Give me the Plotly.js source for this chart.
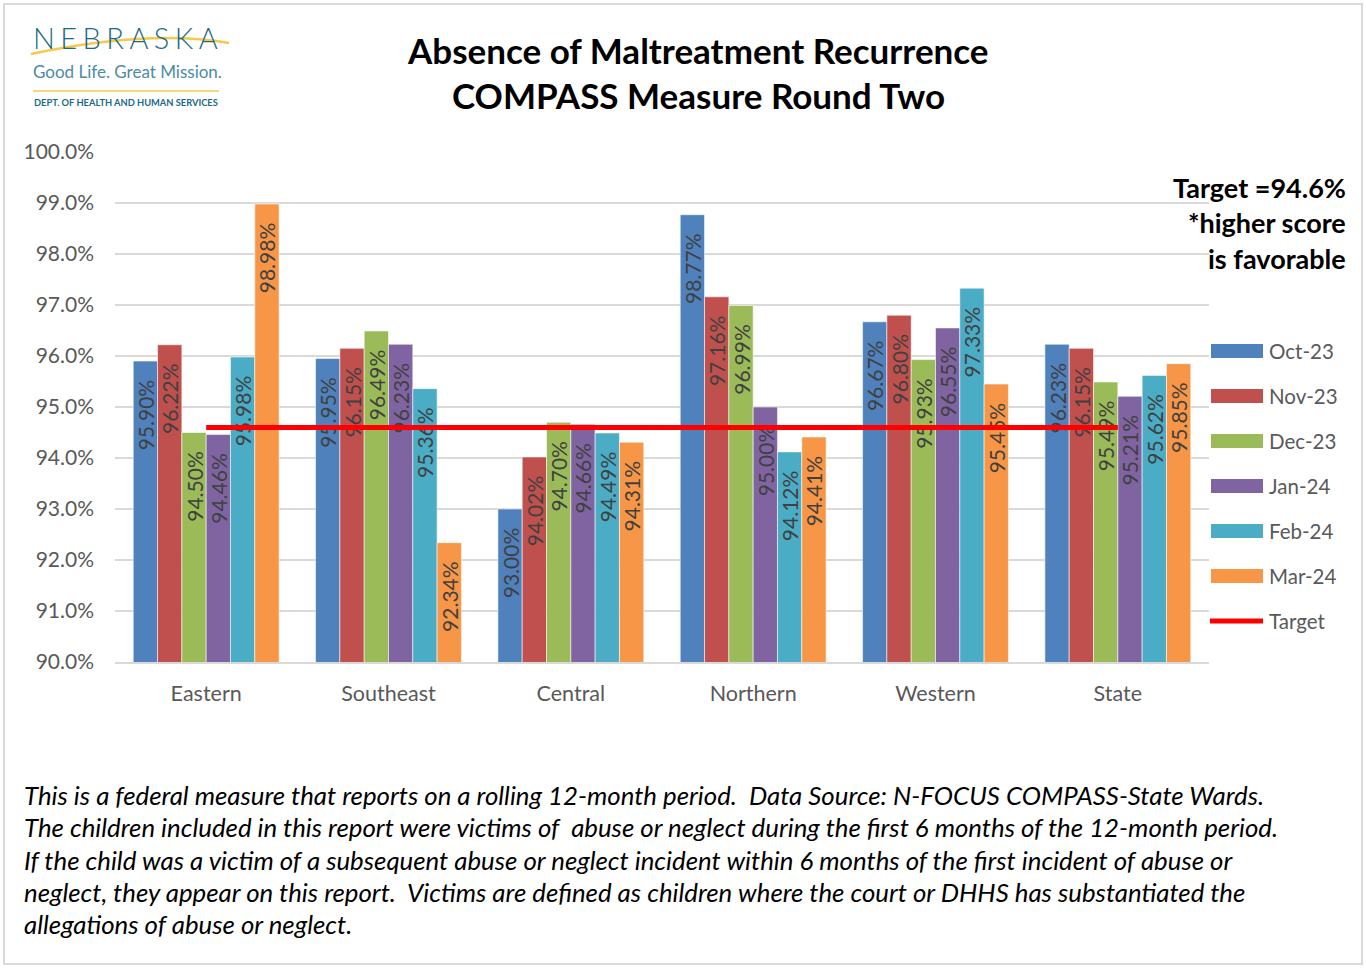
<!DOCTYPE html>
<html><head><meta charset="utf-8">
<script src="https://cdn.plot.ly/plotly-3.0.1.min.js"></script>
<style>
html,body{margin:0;padding:0;background:#fff;}
#frame{position:absolute;left:3px;top:3px;width:1360px;height:962px;border:2px solid #d9d9d9;box-sizing:border-box;pointer-events:none;z-index:5;}
#chart{position:absolute;left:0;top:0;width:1366px;height:969px;}
</style></head>
<body>
<div id="chart"></div><div id="frame"></div>
<script>
// ---- data ----
const categories = ["Eastern", "Southeast", "Central", "Northern", "Western", "State"];
const seriesNames = ["Oct-23", "Nov-23", "Dec-23", "Jan-24", "Feb-24", "Mar-24"];
const oct23 = [95.90, 95.95, 93.00, 98.77, 96.67, 96.23];
const nov23 = [96.22, 96.15, 94.02, 97.16, 96.80, 96.15];
const dec23 = [94.50, 96.49, 94.70, 96.99, 95.93, 95.49];
const jan24 = [94.46, 96.23, 94.66, 95.00, 96.55, 95.21];
const feb24 = [95.98, 95.36, 94.49, 94.12, 97.33, 95.62];
const mar24 = [98.98, 92.34, 94.31, 94.41, 95.45, 95.85];
const targetValue = 94.6;
const targetName = "Target";
const yTickVals = [90, 91, 92, 93, 94, 95, 96, 97, 98, 99, 100];
const seriesValues = [oct23, nov23, dec23, jan24, feb24, mar24];
const colors = ["#4f81bd", "#c0504d", "#9bbb59", "#8064a2", "#4bacc6", "#f79646"];
const titleLines = ["Absence of Maltreatment Recurrence", "COMPASS Measure Round Two"];
const noteLines = ["Target =94.6%", "*higher score", "is favorable"];
const footLines = [
  "This is a federal measure that reports on a rolling 12-month period.&nbsp; Data Source: N-FOCUS COMPASS-State Wards.",
  "The children included in this report were victims of&nbsp; abuse or neglect during the first 6 months of the 12-month period.",
  "If the child was a victim of a subsequent abuse or neglect incident within 6 months of the first incident of abuse or",
  "neglect, they appear on this report.&nbsp; Victims are defined as children where the court or DHHS has substantiated the",
  "allegations of abuse or neglect."
];

// ---- geometry helpers (pixel -> paper) ----
const L = 115, R = 1209, T = 152, B = 662;
const W = R - L, H = B - T;
const px = p => (p - L) / W;
const py = p => (B - p) / H;
const FONT = "Lato, 'Open Sans', sans-serif";

const traces = seriesValues.map((vals, i) => ({
  type: "bar",
  name: seriesNames[i],
  x: categories,
  y: vals,
  marker: {color: colors[i], line: {color: "rgba(255,255,255,0.55)", width: 1}},
  texttemplate: "%{y:.2f}%\u2002\u2009\u2009",
  textposition: "inside",
  insidetextanchor: "end",
  textangle: -90,
  constraintext: "none",
  insidetextfont: {family: FONT, size: 21, color: "#404040"},
  showlegend: false,
  hoverinfo: "x+y+name"
}));

traces.push({
  type: "scatter",
  mode: "lines",
  name: targetName,
  x: categories,
  y: categories.map(() => targetValue),
  line: {color: "#ff0000", width: 5},
  showlegend: false
});

const annotations = [];
const shapes = [];

// title
titleLines.forEach((t, i) => annotations.push({
  xref: "paper", yref: "paper", x: px(698), y: py(50 + i * 45),
  xanchor: "center", yanchor: "middle", showarrow: false,
  text: "<b>" + t + "</b>", font: {family: FONT, size: 35, color: "#000"}
}));
// target note
noteLines.forEach((t, i) => annotations.push({
  xref: "paper", yref: "paper", x: px(1348), y: py(187 + i * 35.5),
  xanchor: "right", yanchor: "middle", showarrow: false,
  text: "<b>" + t + "</b>", font: {family: FONT, size: 27, color: "#000"}
}));
// footnote
footLines.forEach((t, i) => annotations.push({
  xref: "paper", yref: "paper", x: px(22), y: py(795 + i * 32.3),
  xanchor: "left", yanchor: "middle", showarrow: false, align: "left",
  text: "<i>" + t + "</i>", font: {family: FONT, size: 25.8, color: "#000"}
}));

// custom legend
seriesNames.forEach((n, i) => {
  const cy = 351 + i * 45;
  shapes.push({type: "rect", xref: "paper", yref: "paper",
    x0: px(1211), x1: px(1263), y0: py(cy - 7), y1: py(cy + 7),
    fillcolor: colors[i], line: {width: 0}});
  annotations.push({xref: "paper", yref: "paper", x: px(1267), y: py(cy),
    xanchor: "left", yanchor: "middle", showarrow: false, text: n,
    font: {family: FONT, size: 20.5, color: "#595959"}});
});
{
  const cy = 351 + 6 * 45;
  shapes.push({type: "line", xref: "paper", yref: "paper",
    x0: px(1210), x1: px(1263), y0: py(cy), y1: py(cy),
    line: {color: "#ff0000", width: 5}});
  annotations.push({xref: "paper", yref: "paper", x: px(1267), y: py(cy),
    xanchor: "left", yanchor: "middle", showarrow: false, text: targetName,
    font: {family: FONT, size: 20.5, color: "#595959"}});
}

// logo
shapes.push({type: "path", xref: "paper", yref: "paper", layer: "below",
  path: `M${px(31)},${py(54)} Q${px(150)},${py(29)} ${px(229)},${py(43)}`,
  line: {color: "#f7c94a", width: 2.5}});
shapes.push({type: "line", xref: "paper", yref: "paper",
  x0: px(33), x1: px(219), y0: py(91), y1: py(91),
  line: {color: "#f5c84c", width: 1.5}});
annotations.push({xref: "paper", yref: "paper", x: px(31), y: py(38),
  xanchor: "left", yanchor: "middle", showarrow: false,
  text: "N\u2009\u200aE\u2009\u200aB\u2009\u200aR\u2009\u200aA\u2009\u200aS\u2009\u200aK\u2009\u200aA", font: {family: FONT, size: 29, color: "#1a6a86", weight: 300}});
annotations.push({xref: "paper", yref: "paper", x: px(31), y: py(72),
  xanchor: "left", yanchor: "middle", showarrow: false,
  text: "Good Life. Great Mission.", font: {family: FONT, size: 17, color: "#4a8ba6"}});
annotations.push({xref: "paper", yref: "paper", x: px(32), y: py(103),
  xanchor: "left", yanchor: "middle", showarrow: false,
  text: "<b>DEPT. OF HEALTH AND HUMAN SERVICES</b>", font: {family: FONT, size: 9.3, color: "#1a6a86"}});

const layout = {
  width: 1366, height: 969,
  margin: {l: L, r: 1366 - R, t: T, b: 969 - B, pad: 0},
  paper_bgcolor: "#fff", plot_bgcolor: "#fff",
  barmode: "group", bargap: 0.2, bargroupgap: 0,
  showlegend: false,
  font: {family: FONT, color: "#595959"},
  xaxis: {
    type: "category", showgrid: false, showline: true, linecolor: "#d9d9d9", linewidth: 2,
    ticks: "", tickfont: {family: FONT, size: 21.5, color: "#595959"}, ticklabelstandoff: 11
  },
  yaxis: {
    range: [90, 100], tickvals: yTickVals, ticktext: yTickVals.map(v => v.toFixed(1) + "%"),
    showgrid: true, gridcolor: "#d9d9d9", gridwidth: 2, zeroline: false, showline: false,
    ticks: "", tickfont: {family: FONT, size: 21, color: "#595959"}, ticklabelstandoff: 20
  },
  annotations: annotations,
  shapes: shapes
};

Plotly.newPlot("chart", traces, layout, {displayModeBar: false, staticPlot: true});
</script>
</body></html>
